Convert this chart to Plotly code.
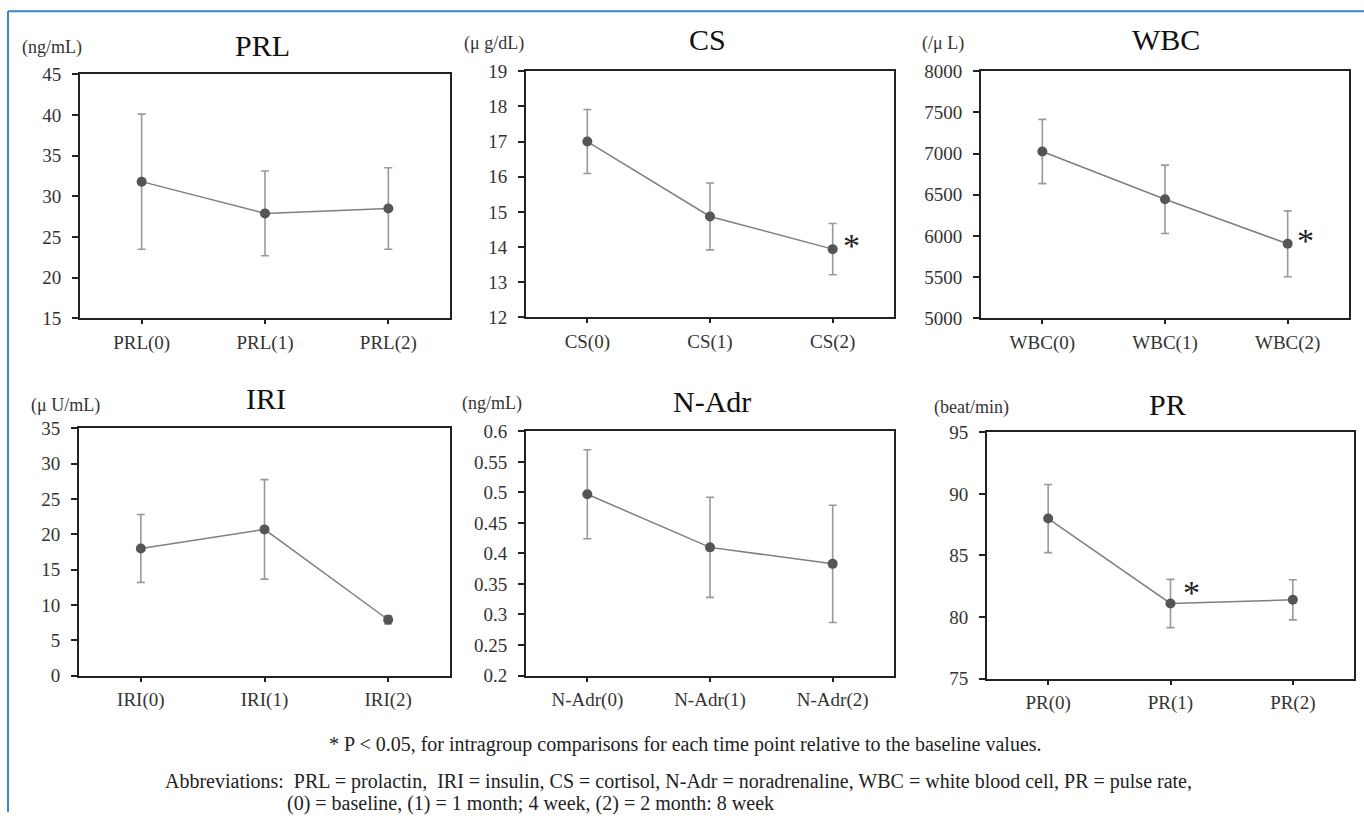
import plotly.graph_objects as go

W, H = 1364, 823
# the photographed page maps page-y to about 9.8 + 0.974*y; place things so they land on target pixels
Y_OFF, Y_SC = 9.8, 0.974

# ---- data ----
prl_cats = ["PRL(0)", "PRL(1)", "PRL(2)"]
prl_mean = [31.8, 27.9, 28.5]
prl_err = [8.3, 5.2, 5.0]

cs_cats = ["CS(0)", "CS(1)", "CS(2)"]
cs_mean = [17.0, 14.87, 13.94]
cs_err = [0.91, 0.95, 0.73]

wbc_cats = ["WBC(0)", "WBC(1)", "WBC(2)"]
wbc_mean = [7025, 6445, 5905]
wbc_err = [390, 415, 400]

iri_cats = ["IRI(0)", "IRI(1)", "IRI(2)"]
iri_mean = [18.0, 20.7, 7.9]
iri_err = [4.8, 7.05, 0.6]

nadr_cats = ["N-Adr(0)", "N-Adr(1)", "N-Adr(2)"]
nadr_mean = [0.497, 0.410, 0.383]
nadr_err = [0.073, 0.082, 0.096]

pr_cats = ["PR(0)", "PR(1)", "PR(2)"]
pr_mean = [88.0, 81.1, 81.4]
pr_err = [2.77, 1.96, 1.63]


def px(x, y):
    """target pixel -> paper fraction"""
    yy = (y - Y_OFF) / Y_SC
    return x / W, 1 - yy / H


panels = [
    dict(title="PRL", unit="(ng/mL)", cats=prl_cats, mean=prl_mean, err=prl_err,
         yr=[15, 45], dt=5, box=(80, 450, 74, 318), tpos=(262, 45), upos=(52, 47), star=None),
    dict(title="CS", unit="(μ g/dL)", cats=cs_cats, mean=cs_mean, err=cs_err,
         yr=[12, 19], dt=1, box=(526, 894, 71, 317), tpos=(707, 39), upos=(494, 43), star=(2, 19, 9)),
    dict(title="WBC", unit="(/μ L)", cats=wbc_cats, mean=wbc_mean, err=wbc_err,
         yr=[5000, 8000], dt=500, box=(981, 1349, 71, 318), tpos=(1166, 39), upos=(943, 43), star=(2, 18, 8)),
    dict(title="IRI", unit="(μ U/mL)", cats=iri_cats, mean=iri_mean, err=iri_err,
         yr=[0, 35], dt=5, box=(79, 450, 428, 675), tpos=(266, 398), upos=(65, 405), star=None),
    dict(title="N-Adr", unit="(ng/mL)", cats=nadr_cats, mean=nadr_mean, err=nadr_err,
         yr=[0.2, 0.6], dt=0.05, box=(526, 894, 431, 675), tpos=(712, 401), upos=(492, 403), star=None),
    dict(title="PR", unit="(beat/min)", cats=pr_cats, mean=pr_mean, err=pr_err,
         yr=[75, 95], dt=5, box=(987, 1354, 432, 678), tpos=(1167, 404), upos=(971, 407), star=(1, 21, 16)),
]

FONT = "Liberation Serif"
fig = go.Figure()
layout = dict(
    width=W, height=H, margin=dict(l=0, r=0, t=0, b=0),
    paper_bgcolor="white", plot_bgcolor="white", showlegend=False,
    font=dict(family=FONT, color="#222"),
)
annotations = []
shapes = []

for i, p in enumerate(panels, start=1):
    sfx = "" if i == 1 else str(i)
    l, r, t, b = p["box"]
    x0, y0 = px(l, b)
    x1, y1 = px(r, t)
    layout["xaxis" + sfx] = dict(
        domain=[x0, x1], anchor="y" + sfx, range=[-0.5, 2.5],
        tickmode="array", tickvals=[0, 1, 2], ticktext=p["cats"],
        showline=True, linecolor="#222", linewidth=2, mirror=True,
        ticks="outside", ticklen=4, tickcolor="#222", tickwidth=1.5,
        ticklabelstandoff=2,
        showgrid=False, zeroline=False, fixedrange=True,
        tickfont=dict(family=FONT, size=19, color="#333"),
    )
    layout["yaxis" + sfx] = dict(
        domain=[y0, y1], anchor="x" + sfx, range=p["yr"], dtick=p["dt"], tick0=p["yr"][0],
        showline=True, linecolor="#222", linewidth=2, mirror=True,
        ticks="outside", ticklen=6, tickcolor="#222", tickwidth=1.5,
        ticklabelstandoff=7,
        showgrid=False, zeroline=False, fixedrange=True,
        tickfont=dict(family=FONT, size=19, color="#333"),
    )
    fig.add_trace(go.Scatter(
        x=[0, 1, 2], y=p["mean"], mode="lines+markers",
        xaxis="x" + sfx, yaxis="y" + sfx,
        line=dict(color="#7f7f7f", width=1.5),
        marker=dict(size=10, color="#555555"),
        error_y=dict(type="data", array=p["err"], visible=True,
                     color="#999999", thickness=1.6, width=4),
        hoverinfo="skip",
    ))
    tx, ty = px(*p["tpos"])
    annotations.append(dict(x=tx, y=ty, xref="paper", yref="paper",
                            text=p["title"], showarrow=False, xanchor="center", yanchor="middle",
                            font=dict(family=FONT, size=30, color="#111")))
    ux, uy = px(*p["upos"])
    annotations.append(dict(x=ux, y=uy, xref="paper", yref="paper",
                            text=p["unit"], showarrow=False, xanchor="center", yanchor="middle",
                            font=dict(family=FONT, size=18, color="#333")))
    if p["star"] is not None:
        idx, xs, ys = p["star"]
        annotations.append(dict(x=idx, y=p["mean"][idx], xref="x" + sfx, yref="y" + sfx,
                                text="*", showarrow=False, xshift=xs, yshift=ys - 5,
                                font=dict(family=FONT, size=34, color="#222")))

# footnotes
fx, fy = px(685, 744)
annotations.append(dict(x=fx, y=fy, xref="paper", yref="paper", showarrow=False,
                        text="* P < 0.05, for intragroup comparisons for each time point relative to the baseline values.",
                        xanchor="center", yanchor="middle", font=dict(family=FONT, size=20, color="#222")))
fx, fy = px(163, 781)
annotations.append(dict(x=fx, y=fy, xref="paper", yref="paper", showarrow=False,
                        text="Abbreviations:  PRL = prolactin,  IRI = insulin, CS = cortisol, N-Adr = noradrenaline, WBC = white blood cell, PR = pulse rate,",
                        xanchor="left", yanchor="middle", font=dict(family=FONT, size=20, color="#222")))
fx, fy = px(285, 803)
annotations.append(dict(x=fx, y=fy, xref="paper", yref="paper", showarrow=False,
                        text="(0) = baseline, (1) = 1 month; 4 week, (2) = 2 month: 8 week",
                        xanchor="left", yanchor="middle", font=dict(family=FONT, size=20, color="#222")))

# blue frame (top and left)
fl, ft = px(8, 11)
shapes.append(dict(type="line", xref="paper", yref="paper", x0=fl, x1=1, y0=ft, y1=ft,
                   line=dict(color="#3a86c8", width=2)))
shapes.append(dict(type="line", xref="paper", yref="paper", x0=fl, x1=fl, y0=0, y1=ft,
                   line=dict(color="#3a86c8", width=2)))

layout["annotations"] = annotations
layout["shapes"] = shapes
fig.update_layout(**layout)
fig.write_html("out.html", config={"displayModeBar": False},
               post_script="document.body.style.margin='0px';document.body.style.overflow='hidden';")
